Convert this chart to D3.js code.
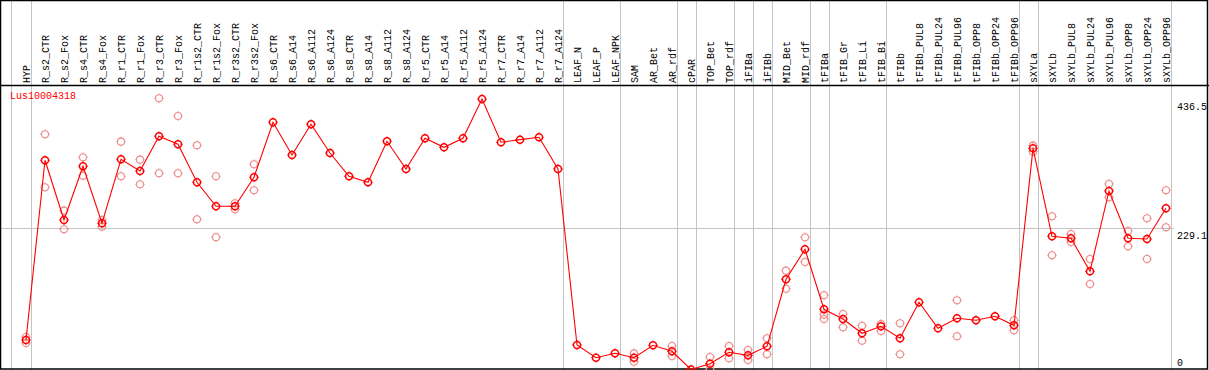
<!DOCTYPE html>
<html>
<head>
<meta charset="utf-8">
<script src="https://cdn.jsdelivr.net/npm/d3@7"></script>
<style>
html,body{margin:0;padding:0;background:#fff;}
svg{display:block;}
text{font-family:"Liberation Mono","DejaVu Sans Mono",monospace;font-size:10px;}
</style>
</head>
<body>
<svg id="chart" width="1209" height="370"></svg>
<script>
const title = "Lus10004318";
const categories = ["HYP","R_s2_CTR","R_s2_Fox","R_s4_CTR","R_s4_Fox","R_r1_CTR","R_r1_Fox","R_r3_CTR","R_r3_Fox","R_r1s2_CTR","R_r1s2_Fox","R_r3s2_CTR","R_r3s2_Fox","R_s6_CTR","R_s6_A14","R_s6_A112","R_s6_A124","R_s8_CTR","R_s8_A14","R_s8_A112","R_s8_A124","R_r5_CTR","R_r5_A14","R_r5_A112","R_r5_A124","R_r7_CTR","R_r7_A14","R_r7_A112","R_r7_A124","LEAF_N","LEAF_P","LEAF_NPK","SAM","AR_Bet","AR_rdf","cPAR","TOP_Bet","TOP_rdf","iFIBa","iFIBb","MID_Bet","MID_rdf","tFIBa","tFIB_Gr","tFIB_Li","tFIB_Bi","tFIBb","tFIBb_PUL8","tFIBb_PUL24","tFIBb_PUL96","tFIBb_OPP8","tFIBb_OPP24","tFIBb_OPP96","sXYLa","sXYLb","sXYLb_PUL8","sXYLb_PUL24","sXYLb_PUL96","sXYLb_OPP8","sXYLb_OPP24","sXYLb_OPP96"];
const meanValues = [47.6,337.6,241.3,328,236,339.3,320.4,376.4,363.5,302.1,263.4,263.4,310.2,399,346.2,395.8,349.4,311.8,302.1,368.3,323.6,373.2,358.6,373.2,436.5,366.7,370.9,374.8,323.6,39.5,19,26.1,19,39,29.4,0,9.4,27.8,22.9,37.4,145.6,194,97.2,81.5,58.4,69.7,50.4,108.5,66.5,82.6,79.4,85.9,71.3,357,215,211.8,158.5,288.1,211.8,210.6,260.2];
const rep1 = [52.5,379.6,256.3,342.5,241.3,367.7,338.6,437.7,409.1,361.9,311.8,268.2,331.2,null,null,null,null,null,null,null,null,null,null,null,null,null,null,null,null,null,null,null,26.1,null,37.9,null,20.2,37.9,31.5,50.4,159.5,213.4,119.8,89.6,70.7,73.4,74.6,null,null,111.7,null,null,79.4,361.3,247.3,218.7,178.3,299.4,223.5,244,289.2];
const rep2 = [42.8,294.1,226.3,312.8,230.5,311.8,298.9,316.7,316.7,242.4,213.4,258.6,289.2,null,null,null,null,null,null,null,null,null,null,null,null,null,null,null,null,null,null,null,12.6,null,21.8,null,0.3,18.1,15.3,24.5,130.4,173.5,81.5,68.1,46.5,62.1,24.5,null,null,53.6,null,null,63.3,351.5,184.3,205.8,138,277.9,198.8,178.3,229.5];
const rep3 = [null,null,null,null,null,null,null,null,null,null,null,null,null,null,null,null,null,null,null,null,null,null,null,null,null,null,null,null,null,null,null,null,null,null,null,null,null,null,null,null,null,null,88.5,null,null,null,null,null,null,null,null,null,null,null,null,null,null,null,null,null,null];
const yTickValues = [436.5, 229.1, 0];
const yTickLabels = ["436.5", "229.1", "0"];
const groupEnds = ["HYP","R_r7_A124","LEAF_NPK","AR_rdf","cPAR","TOP_rdf","iFIBa","iFIBb","MID_rdf","tFIBa","tFIB_Bi","tFIBb_OPP96","sXYLa","sXYLb_OPP96"];

const svg = d3.select("#chart");
const W = 1209, H = 370;
const x = d3.scalePoint().domain(categories).range([26, 1166]).padding(0);
const y = d3.scaleLinear().domain([0, 436.5]).range([369.5, 99]);
const gridColor = "#c4c4c4";

// vertical group separators
const sepX = [x("HYP") - 15].concat(groupEnds.map(c => x(c) + 4.5));
svg.append("g").selectAll("line").data(sepX).join("line")
  .attr("x1", d => Math.round(d) + 0.5).attr("x2", d => Math.round(d) + 0.5)
  .attr("y1", 0).attr("y2", H)
  .attr("stroke", gridColor).attr("stroke-width", 1);

// horizontal grid at middle tick
svg.append("line")
  .attr("x1", 0).attr("x2", 1174)
  .attr("y1", Math.round(y(229.1)) + 0.5).attr("y2", Math.round(y(229.1)) + 0.5)
  .attr("stroke", gridColor).attr("stroke-width", 1);

// frame
svg.append("rect").attr("x", 0.5).attr("y", 0.5).attr("width", W - 2).attr("height", H - 1.5)
  .attr("fill", "none").attr("stroke", "#000").attr("stroke-width", 1.5);
svg.append("line").attr("x1", 0).attr("x2", W).attr("y1", 85.5).attr("y2", 85.5)
  .attr("stroke", "#000").attr("stroke-width", 1.5);

// category labels (rotated)
svg.append("g").selectAll("text").data(categories).join("text")
  .attr("transform", d => `translate(${x(d)},83) rotate(-90)`)
  .attr("dy", "0.35em")
  .attr("text-anchor", "start")
  .attr("fill", "#000")
  .text(d => d);

// y tick labels
svg.append("g").selectAll("text").data(yTickValues).join("text")
  .attr("x", 1177)
  .attr("y", (d, i) => i === 2 ? y(d) - 4 : y(d) + 11)
  .attr("fill", "#000")
  .text((d, i) => yTickLabels[i]);

// title
svg.append("text").attr("x", 10).attr("y", 98.5).attr("fill", "#ff0000").text(title);

// replicate points
const repColor = "#ee8c8c";
function marker(g, cx, cy, color, sw) {
  g.append("circle").attr("cx", cx).attr("cy", cy).attr("r", 3.5)
    .attr("fill", "none").attr("stroke", color).attr("stroke-width", sw);
  const t = [[0,-1],[0,1],[-1,0],[1,0]];
  t.forEach(([dx, dy]) => {
    g.append("line")
      .attr("x1", cx + dx * 3.5).attr("y1", cy + dy * 3.5)
      .attr("x2", cx + dx * 4.8).attr("y2", cy + dy * 4.8)
      .attr("stroke", color).attr("stroke-width", 1);
  });
}
const repG = svg.append("g");
[rep1, rep2, rep3].forEach(rep => {
  rep.forEach((v, i) => {
    if (v !== null) marker(repG, x(categories[i]), y(v), repColor, 1.1);
  });
});

// mean line
const line = d3.line().x((d, i) => x(categories[i])).y(d => y(d));
svg.append("path").datum(meanValues).attr("d", line)
  .attr("fill", "none").attr("stroke", "#ff0000").attr("stroke-width", 1.1);

const meanG = svg.append("g");
meanValues.forEach((v, i) => marker(meanG, x(categories[i]), y(v), "#ff0000", 1.5));
</script>
</body>
</html>
